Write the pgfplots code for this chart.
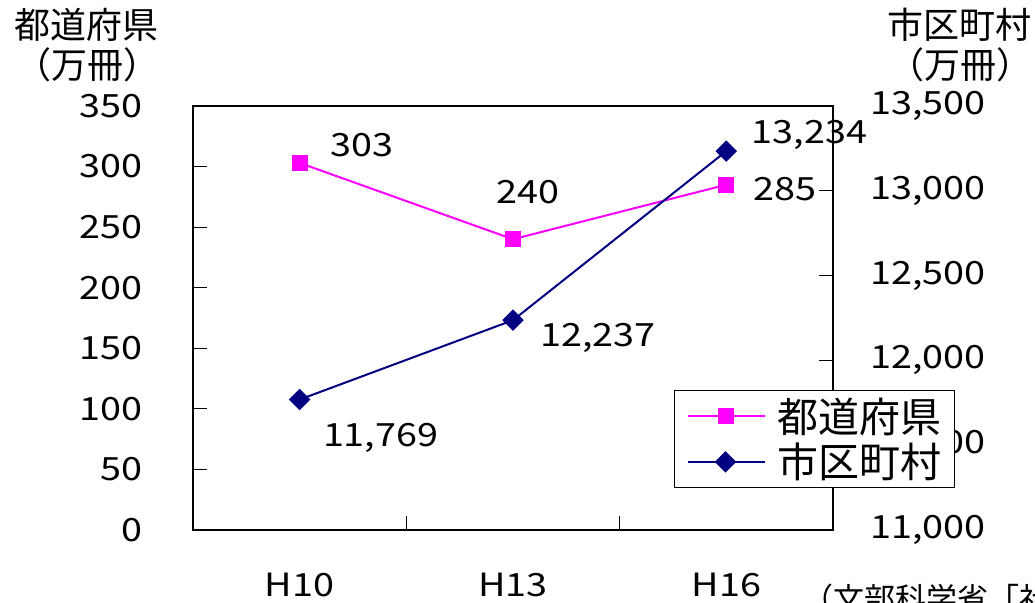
\documentclass[border=0pt]{standalone}
\usepackage{pgfplots}
\pgfplotsset{compat=1.18}
\usepackage{fontspec}
\setmainfont{Noto Sans CJK JP}
% slightly widened digits for numeric labels
\newfontfamily\numfam[FakeStretch=1.18]{Noto Sans CJK JP}

\definecolor{prefmag}{RGB}{255,0,255}
\definecolor{citynavy}{RGB}{0,0,128}

\newcommand{\numfont}{\numfam\fontsize{16}{19}\selectfont}
\newcommand{\titlefont}{\fontsize{18}{21}\selectfont}

\pgfplotsset{
  base/.style={
    at={(96.5pt,36.5pt)}, anchor=south west,
    scale only axis, width=320pt, height=212pt,
    xmin=-0.5, xmax=2.5,
    tick align=inside,
    major tick length=7pt,
    every tick/.style={black, line width=0.5pt},
    axis line style={black, line width=0.8pt},
    /pgf/number format/assume math mode=true,
    tick label style={font=\numfont, inner sep=0pt},
    clip=false,
  },
  prefstyle/.style={prefmag, line width=1pt, mark=square*, mark size=3.5pt, mark options={solid, fill=prefmag}},
  citystyle/.style={citynavy, line width=1pt, mark=square*, mark size=3.3pt, mark options={solid, rotate=45, fill=citynavy}},
}

\begin{document}
\begin{tikzpicture}
\path[use as bounding box] (0,0) rectangle (517.5pt,301.5pt);

% left axis: prefectural libraries
\begin{axis}[base,
  ymin=0, ymax=350,
  ytick={0,50,...,350},
  ytick pos=left, xtick pos=bottom,
  yticklabel style={anchor=east},
  yticklabel shift=25pt,
  xtick={0,1,2},
  xticklabels={H10,H13,H16},
  xtick style={draw=none},
  xticklabel style={anchor=north},
  xticklabel shift=21.5pt,
  extra x ticks={0.5,1.5},
  extra x tick labels={},
  extra x tick style={xtick style={draw=black, line width=0.5pt}},
]
\addplot[prefstyle] coordinates {(0,303) (1,240) (2,285)};
\node[font=\numfont, xshift=31pt, yshift=9pt] at (axis cs:0,303) {303};
\node[font=\numfont, xshift=7.5pt, yshift=23.5pt] at (axis cs:1,240) {240};
\node[font=\numfont, xshift=29.5pt, yshift=-2pt] at (axis cs:2,285) {285};
\end{axis}

% right axis: municipal libraries
\begin{axis}[base,
  axis x line=none,
  axis y line*=right,
  xtick=\empty,
  ymin=11000, ymax=13500,
  ytick={11000,11500,...,13500},
  ytick pos=right,
  scaled y ticks=false,
  yticklabel={\pgfmathprintnumber[fixed,precision=0,1000 sep={,}]{\tick}},
  yticklabel style={anchor=west},
  yticklabel shift=18.5pt,
  legend style={
    at={(0.7516,0.330)}, anchor=north west,
    draw=black, line width=0.5pt, fill=white,
    font=\fontsize{20.5}{24}\selectfont,
    inner xsep=6pt, inner ysep=3pt,
    row sep=3pt,
    nodes={inner sep=0.5pt},
    cells={anchor=west},
  },
  legend image code/.code={
    \draw[mark repeat=2, mark phase=2, #1] plot coordinates {(0pt,0pt) (19pt,0pt) (38.5pt,0pt)};
    \path (44pt,0pt);
  },
]
\addlegendimage{prefstyle}
\addlegendentry{都道府県}
\addplot[citystyle] coordinates {(0,11769) (1,12237) (2,13234)};
\addlegendentry{市区町村}
\node[font=\numfont, xshift=40.5pt, yshift=-19pt] at (axis cs:0,11769) {11,769};
\node[font=\numfont, xshift=42.5pt, yshift=-9pt] at (axis cs:1,12237) {12,237};
\node[font=\numfont, xshift=41.5pt, yshift=8pt] at (axis cs:2,13234) {13,234};
\end{axis}

% axis titles
\node[font=\titlefont] at (43.25pt,289pt) {都道府県};
\node[font=\titlefont] at (44pt,269pt) {（万冊）};
\node[font=\titlefont] at (479.75pt,289pt) {市区町村};
\node[font=\titlefont] at (480pt,269pt) {（万冊）};

% source note
\node[anchor=north west, inner sep=0pt, font=\fontsize{15.5}{18}\selectfont] at (401pt,9.5pt) {（文部科学省「社会教育調査」）};
\end{tikzpicture}
\end{document}
